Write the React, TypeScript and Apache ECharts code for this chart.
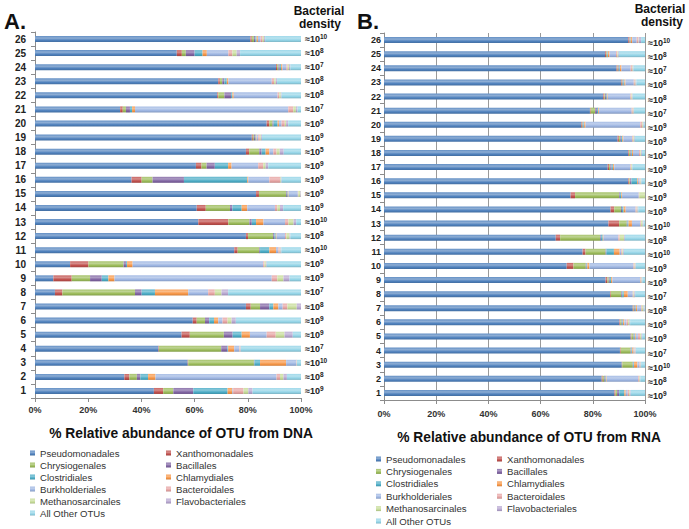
import React, { useEffect, useRef } from "react";
import * as echarts from "echarts";

const categories = ["1","2","3","4","5","6","7","8","9","10","11","12","13","14","15","16","17","18","19","20","21","22","23","24","25","26"];
const densityExponents = [9,8,10,7,9,9,8,7,9,9,10,8,10,9,9,9,9,5,9,9,7,8,8,7,8,10];

const seriesNames = ["Pseudomonadales","Xanthomonadales","Chrysiogenales","Bacillales","Clostridiales","Chlamydiales","Burkholderiales","Bacteroidales","Methanosarcinales","Flavobacteriales","All Other OTUs"];
const seriesColors = ["#4F81BD","#C0504D","#9BBB59","#8064A2","#4BACC6","#F79646","#9DB5E2","#E6A3A2","#C6DC98","#B6A6D0","#93D4E7"];
const xTicks = ["0%","20%","40%","60%","80%","100%"];

// DNA (panel A), sample 1..26
const dnaPseudomonadales = [44.7,33.6,57.4,46.4,55.1,59.3,79.3,7.5,6.9,13.2,74.9,79.3,61.4,60.8,83.1,36.3,60.5,79.3,81.5,87.1,32.0,68.5,68.9,90.6,53.3,81.0];
const dnaXanthomonadales = [3.5,1.9,0.2,0.2,3.1,1.5,1.8,2.8,6.9,6.9,1.3,0.8,11.3,3.4,1.1,3.8,2.1,1.2,0.4,1.0,1.0,0.4,0.6,0.4,1.9,0.5];
const dnaChrysiogenales = [3.8,2.8,24.7,23.4,12.8,3.1,3.5,27.3,6.9,13.2,8.1,9.4,7.9,9.1,10.2,4.1,1.9,3.8,0.4,1.2,1.2,2.3,0.9,0.5,1.5,0.8];
const dnaBacillales = [7.5,1.3,0.2,2.3,3.3,1.6,3.5,2.5,4.4,0.9,0.3,0.5,0.9,0.9,0.3,11.8,3.1,0.9,0.4,0.4,1.5,2.5,0.8,0.5,3.3,0.5];
const dnaClostridiales = [12.9,2.9,2.1,0.3,3.4,1.8,1.5,5.0,2.5,0.4,3.5,0.5,1.6,3.5,0.3,23.8,5.0,1.5,0.3,1.5,0.8,0.5,0.9,0.5,3.0,0.5];
const dnaChlamydiales = [1.8,2.8,9.8,2.3,3.1,1.6,1.9,12.5,2.3,2.1,2.5,0.3,2.8,2.1,0.3,0.4,1.3,1.4,0.3,0.5,1.1,0.5,0.6,0.5,1.6,0.5];
const dnaBurkholderiales = [0.3,45.5,3.8,1.9,6.3,1.6,1.6,7.5,59.1,49.1,0.9,3.2,8.1,10.4,3.5,7.9,10.0,1.5,0.6,1.0,57.6,16.5,16.3,1.5,8.1,1.0];
const dnaBacteroidales = [3.9,1.3,0.1,0.2,3.4,1.9,1.8,2.5,2.1,0.5,0.5,0.5,1.3,0.9,0.2,4.0,1.9,1.2,0.6,1.2,1.9,0.6,0.9,0.5,1.5,0.8];
const dnaMethanosarcinales = [1.8,1.3,0.1,0.2,3.3,1.5,3.5,2.5,2.3,0.5,0.3,1.2,1.9,1.0,0.8,0.3,0.9,1.2,0.4,0.5,1.0,0.6,0.6,0.5,1.6,0.5];
const dnaFlavobacteriales = [1.6,1.3,0.1,0.2,3.1,1.6,1.6,2.5,2.3,0.3,0.3,0.3,1.0,1.2,0.2,0.3,1.0,1.5,0.4,0.8,0.6,0.3,0.5,0.5,1.3,0.4];
const dnaOtherOTUs = [18.2,5.3,1.5,22.6,3.1,24.5,0,27.4,4.3,12.9,7.4,4.0,1.8,6.7,0,7.3,12.3,6.5,14.7,4.8,1.3,7.3,9.0,4.0,22.9,13.5];

// RNA (panel B), sample 1..26
const rnaPseudomonadales = [88.3,83.4,91.1,90.4,94.5,90.2,95.3,86.6,84.9,70.0,76.1,65.8,86.0,86.8,71.5,93.6,85.7,93.6,89.5,75.5,78.9,84.0,90.8,89.1,84.7,93.6];
const rnaXanthomonadales = [0.4,0.4,0.2,0.3,0.3,0.3,0.3,0.3,0.7,2.6,1.1,1.7,4.1,1.4,1.7,0.4,0.5,0.3,0.5,0.3,0.3,0.4,0.3,0.4,0.4,0.3];
const rnaChrysiogenales = [0.6,0.6,4.0,3.8,0.8,0.5,0.3,4.0,0.5,4.7,7.7,15.3,2.9,2.6,16.9,0.3,0.5,0.5,0.5,0.3,1.7,0.3,0.3,0.3,0.3,0.2];
const rnaBacillales = [0.8,0.3,0.2,0.3,0.3,0.3,0.3,0.4,0.4,0.3,0.3,0.3,0.3,0.4,0.3,0.5,0.5,0.3,0.3,0.3,0.7,0.4,0.3,0.3,0.2,0.2];
const rnaClostridiales = [2.0,0.3,0.3,0.3,0.3,0.3,0.3,0.6,0.5,0.3,2.9,0.7,0.4,0.6,0.5,2.2,0.5,0.3,0.5,0.3,0.5,0.3,0.4,0.3,0.2,0.2];
const rnaChlamydiales = [0.5,0.3,1.3,0.5,0.3,0.5,0.5,1.5,0.5,0.8,2.2,0.3,1.3,0.8,0.3,0.3,0.5,0.4,0.4,0.5,0.3,0.3,0.4,0.6,0.6,0.6];
const rnaBurkholderiales = [0.8,12.1,0.8,0.3,0.8,0.8,1.5,1.9,10.6,16.9,0.6,5.7,3.2,3.8,6.4,0.6,6.2,2.3,3.4,21.0,12.5,8.7,3.2,3.5,2.5,1.7];
const rnaBacteroidales = [0.5,0.3,0.2,0.2,0.8,0.6,0.3,0.3,0.3,0.4,0.4,0.5,0.3,0.4,0.2,0.3,0.3,0.5,0.4,0.7,0.4,0.4,0.4,0.5,0.5,0.6];
const rnaMethanosarcinales = [0.3,0.3,0.2,0.2,0.5,0.5,0.6,0.3,0.3,0.3,0.3,1.7,0.6,0.3,2.2,0.2,0.3,0.3,0.3,0.3,0.3,0.3,0.3,0.3,0.3,0.2];
const rnaFlavobacteriales = [0.3,0.2,0.2,0.2,0.3,0.3,0.3,0.3,0.3,0.2,0.3,0.3,0.3,0.3,0,0.2,0.2,0.3,0.3,0.3,0.2,0.2,0.3,0.3,0.3,0.9];
const rnaOtherOTUs = [5.5,1.8,1.5,3.5,1.1,5.7,0.3,3.8,1.0,3.5,8.1,7.7,0.6,2.6,0,1.4,4.8,1.2,3.9,0.5,4.2,4.7,3.3,4.4,10.0,1.5];

const dnaData = [dnaPseudomonadales,dnaXanthomonadales,dnaChrysiogenales,dnaBacillales,dnaClostridiales,dnaChlamydiales,dnaBurkholderiales,dnaBacteroidales,dnaMethanosarcinales,dnaFlavobacteriales,dnaOtherOTUs];
const rnaData = [rnaPseudomonadales,rnaXanthomonadales,rnaChrysiogenales,rnaBacillales,rnaClostridiales,rnaChlamydiales,rnaBurkholderiales,rnaBacteroidales,rnaMethanosarcinales,rnaFlavobacteriales,rnaOtherOTUs];

const legendCol1 = ["Pseudomonadales","Chrysiogenales","Clostridiales","Burkholderiales","Methanosarcinales","All Other OTUs"];
const legendCol2 = ["Xanthomonadales","Bacillales","Chlamydiales","Bacteroidales","Flavobacteriales"];

function shade(hex: string, amt: number) {
  const n = parseInt(hex.slice(1), 16);
  let r = (n >> 16) & 255, g = (n >> 8) & 255, b = n & 255;
  if (amt >= 0) {
    r = r + (255 - r) * amt; g = g + (255 - g) * amt; b = b + (255 - b) * amt;
  } else {
    r = r * (1 + amt); g = g * (1 + amt); b = b * (1 + amt);
  }
  return `rgb(${Math.round(r)},${Math.round(g)},${Math.round(b)})`;
}

function barColor(hex: string) {
  return new echarts.graphic.LinearGradient(0, 0, 0, 1, [
    { offset: 0, color: shade(hex, 0.12) },
    { offset: 0.35, color: shade(hex, 0.35) },
    { offset: 0.7, color: hex },
    { offset: 1, color: shade(hex, -0.15) },
  ]);
}

const FONT = "Liberation Sans";
const AXIS_GRAY = "#8c8c8c";

function makeOption() {
  const xAxisBase = (gridIndex: number, split: boolean, margin: number) => ({
    type: "value",
    gridIndex,
    min: 0,
    max: 100,
    interval: 20,
    axisLine: { show: true, lineStyle: { color: AXIS_GRAY } },
    axisTick: { show: true, length: 4, lineStyle: { color: AXIS_GRAY } },
    splitLine: { show: split, lineStyle: { color: "#9a9a9a", width: 1 } },
    axisLabel: {
      formatter: (v: number) => xTicks[Math.round(v / 20)],
      fontFamily: FONT, fontWeight: "bold", fontSize: 9, color: "#333", margin,
    },
  });
  const catLeft = (gridIndex: number, fontSize: number, margin: number) => ({
    type: "category",
    gridIndex,
    data: categories,
    axisLine: { show: true, lineStyle: { color: AXIS_GRAY } },
    axisTick: { show: true, length: 4, lineStyle: { color: AXIS_GRAY } },
    axisLabel: { interval: 0, fontFamily: FONT, fontWeight: "bold", fontSize, color: "#222", margin },
  });
  const catRight = (gridIndex: number, margin: number, padTop: number) => ({
    type: "category",
    gridIndex,
    position: "right",
    data: categories,
    axisLine: { show: false },
    axisTick: { show: false },
    axisLabel: {
      interval: 0,
      margin,
      padding: [padTop, 0, 0, 0],
      formatter: (_v: string, i: number) => `{m|≈10}{s|${densityExponents[i]}}`,
      rich: {
        m: { fontFamily: FONT, fontWeight: "bold", fontSize: 9, color: "#222" },
        s: { fontFamily: FONT, fontWeight: "bold", fontSize: 6.5, color: "#222", padding: [0, 0, 5, 0] },
      },
    },
  });

  const mkSeries = (data: number[][], stack: string, xi: number, yi: number) =>
    seriesNames.map((name, i) => ({
      type: "bar",
      name,
      stack,
      xAxisIndex: xi,
      yAxisIndex: yi,
      barWidth: 6,
      silent: true,
      data: data[i],
      itemStyle: { color: barColor(seriesColors[i]) },
    }));

  const legend = (left: number, top: number, data: string[], gap: number) => ({
    orient: "vertical",
    left,
    top,
    padding: 0,
    itemWidth: 5,
    itemHeight: 5,
    itemGap: gap,
    icon: "rect",
    selectedMode: false,
    data,
    textStyle: { fontFamily: FONT, fontSize: 9.6, color: "#333", lineHeight: 12 },
  });

  const txt = (text: string, x: number, y: number, size: number, align = "center") => ({
    type: "text",
    x,
    y,
    style: {
      text,
      fontFamily: FONT,
      fontWeight: "bold",
      fontSize: size,
      fill: "#111",
      textAlign: align,
      textVerticalAlign: "middle",
    },
  });

  return {
    animation: false,
    backgroundColor: "#fff",
    grid: [
      { left: 35, top: 32, width: 266, height: 366 },
      { left: 384, top: 33, width: 261, height: 367 },
    ],
    xAxis: [xAxisBase(0, false, 7), xAxisBase(1, true, 9)],
    yAxis: [catLeft(0, 10, 9), catRight(0, 4, 0), catLeft(1, 9, 3), catRight(1, 3, 6)],
    legend: [
      legend(30, 447, legendCol1, 0),
      legend(166, 447, legendCol2, 0),
      legend(376, 453, legendCol1, 0.4),
      legend(497, 453, legendCol2, 0.4),
    ],
    series: [...mkSeries(dnaData, "dna", 0, 0), ...mkSeries(rnaData, "rna", 1, 2)],
    graphic: [
      txt("A.", 4, 21, 22, "left"),
      txt("B.", 357, 21, 22, "left"),
      txt("Bacterial", 319, 11, 12),
      txt("density", 320, 24, 12),
      txt("Bacterial", 660, 9, 12),
      txt("density", 662, 22, 12),
      txt("% Relative abundance of OTU from DNA", 181, 433, 13.8),
      txt("% Relative abundance of OTU from RNA", 529, 437, 13.8),
    ],
  };
}

export default function App() {
  const ref = useRef<HTMLDivElement>(null);
  useEffect(() => {
    if (!ref.current) return;
    const chart = echarts.init(ref.current, null, { renderer: "svg" });
    chart.setOption(makeOption() as any);
    return () => chart.dispose();
  }, []);
  return (
    <div
      ref={ref}
      style={{ position: "fixed", left: 0, top: 0, width: 689, height: 529, background: "#fff" }}
    />
  );
}
